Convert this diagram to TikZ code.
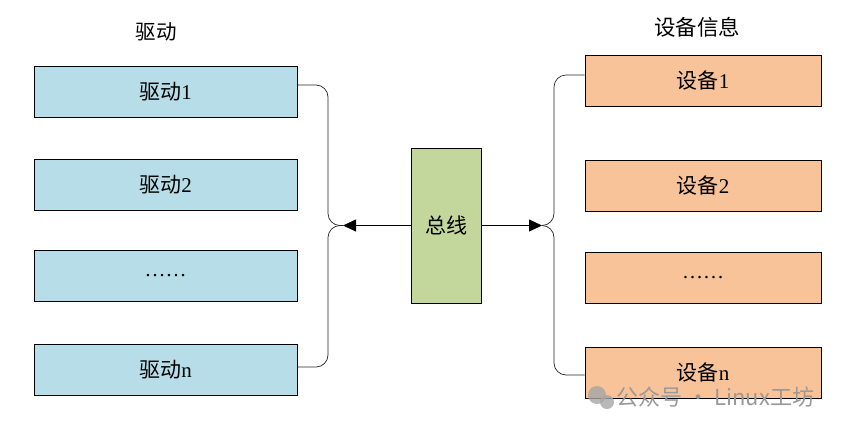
\documentclass[tikz,border=0pt]{standalone}
\usepackage{fontspec}
\setmainfont{Liberation Serif}
\newfontfamily\cjk{Noto Sans CJK SC}
\usetikzlibrary{arrows.meta, positioning}
\definecolor{drvblue}{HTML}{B7DDE8}
\definecolor{devorange}{HTML}{F9C39A}
\definecolor{busgreen}{HTML}{C3D69B}
\tikzset{
  drvbox/.style={draw, line width=0.9pt, fill=drvblue, inner sep=0pt,
    minimum width=263pt, minimum height=51pt, font=\fontsize{21}{21}\selectfont},
  devbox/.style={draw, line width=0.9pt, fill=devorange, inner sep=0pt,
    minimum width=236pt, minimum height=51pt, font=\fontsize{21}{21}\selectfont},
  link/.style={draw=black!85, line width=0.7pt, rounded corners=12pt},
}

\begin{document}
\begin{tikzpicture}[x=1pt, y=-1pt]
    \useasboundingbox (0,0) rectangle (846,432);
    % titles
    \node[font=\fontsize{20.5}{20.5}\selectfont] (drvtitle) at (156,32) {\cjk 驱动};
    \node[font=\fontsize{21.5}{21.5}\selectfont] (devtitle) at (697,27) {\cjk 设备信息};
    % drivers
    \node[drvbox] (drv1) at (165.5,92)    {{\cjk 驱动}1};
    \node[drvbox] (drv2) at (165.5,184.5) {{\cjk 驱动}2};
    \node[drvbox] (drv3) at (165.5,275.5) {……};
    \node[drvbox] (drv4) at (165.5,370)   {{\cjk 驱动}n};
    % devices
    \node[devbox] (dev1) at (703,81)    {{\cjk 设备}1};
    \node[devbox] (dev2) at (703,186)   {{\cjk 设备}2};
    \node[devbox] (dev3) at (703,277.5) {……};
    \node[devbox] (dev4) at (703,372.5) {{\cjk 设备}n};
    % bus
    \node[draw, line width=0.9pt, fill=busgreen, inner sep=0pt,
      minimum width=70pt, minimum height=155pt,
      font=\fontsize{21}{21}\selectfont] (bus) at (446,225.5) {\cjk 总线};
    \coordinate (jl) at (343,225.5);
    \coordinate (jr) at (542,225.5);
    % braces
    \draw[link] ([yshift=7pt]drv1.east) -| ([xshift=-15pt]jl) -- (jl);
    \draw[link] ([yshift=3pt]drv4.east) -| ([xshift=-15pt]jl) -- (jl);
    \draw[link] ([yshift=6pt]dev1.west) -| ([xshift=12pt]jr) -- (jr);
    \draw[link] ([yshift=-2.5pt]dev4.west) -| ([xshift=12pt]jr) -- (jr);
    \draw[line width=0.8pt, -{Triangle[length=13pt,width=12pt]}] (bus.west) -- (jl);
    \draw[line width=0.8pt, -{Triangle[length=13pt,width=12pt]}] (bus.east) -- (jr);
    % watermark
    \fill[black!35, opacity=0.8] (597,395) circle (9);
    \fill[black!35, opacity=0.8] (607,402) circle (7);
    \node[anchor=west, text=black!40, font=\fontsize{22}{22}\selectfont] (mark) at (613,397)
      {\cjk 公众号 · Linux工坊};
\end{tikzpicture}
\end{document}
